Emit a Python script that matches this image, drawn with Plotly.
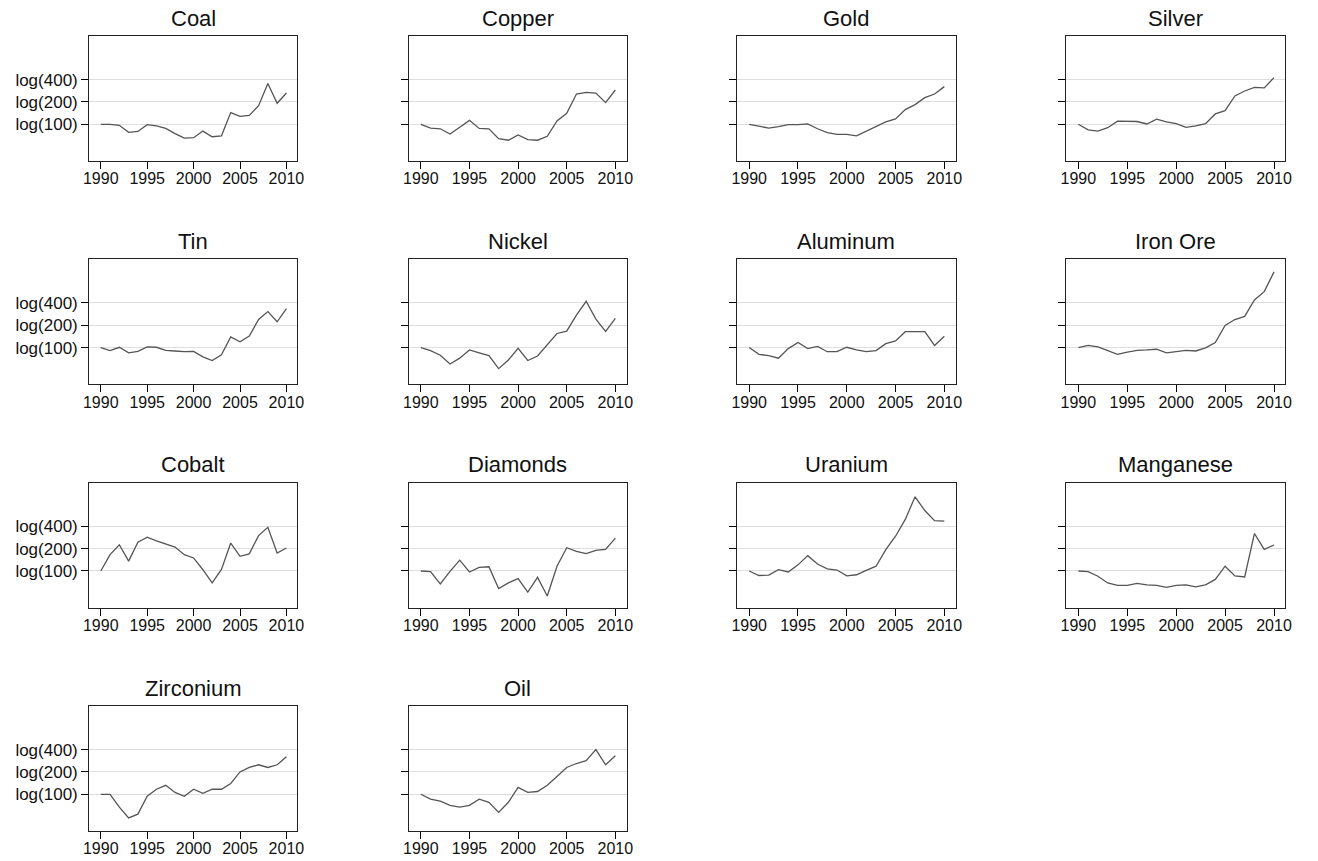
import plotly.graph_objects as go
import math

years = list(range(1990, 2011))

names = ["Coal", "Copper", "Gold", "Silver", "Tin", "Nickel", "Aluminum", "Iron Ore",
         "Cobalt", "Diamonds", "Uranium", "Manganese", "Zirconium", "Oil"]

coal = [100, 100, 97, 78, 80, 99, 95, 88, 75, 65, 66, 81, 68, 70, 144, 128, 132, 178, 354, 192, 264]
copper = [100, 89, 87, 74, 91, 113, 88, 87, 64, 61, 72, 62, 61, 69, 111, 141, 256, 270, 263, 196, 290]
gold = [100, 94, 89, 93, 99, 99, 101, 87, 77, 73, 73, 70, 81, 94, 108, 118, 158, 184, 229, 256, 322]
silver = [100, 84, 81, 90, 110, 109, 109, 101, 117, 108, 102, 91, 95, 102, 138, 153, 241, 281, 315, 310, 426]
tin = [100, 91, 101, 85, 89, 102, 101, 92, 90, 88, 89, 75, 67, 80, 139, 120, 143, 239, 306, 223, 336]
nickel = [100, 91, 79, 60, 72, 93, 85, 78, 52, 68, 98, 67, 77, 108, 155, 167, 274, 421, 242, 165, 247]
aluminum = [100, 81, 78, 72, 97, 117, 97, 104, 88, 88, 101, 93, 88, 91, 113, 123, 164, 165, 164, 107, 142]
iron_ore = [100, 107, 102, 90, 81, 87, 92, 93, 95, 85, 88, 92, 90, 99, 117, 199, 239, 263, 438, 568, 1050]
cobalt = [100, 166, 226, 136, 245, 286, 255, 231, 210, 166, 150, 104, 69, 105, 238, 158, 170, 300, 388, 175, 204]
diamonds = [100, 98, 67, 99, 140, 97, 112, 114, 58, 69, 79, 52, 82, 46, 116, 206, 184, 172, 190, 196, 277]
uranium = [100, 87, 88, 104, 97, 121, 161, 124, 107, 103, 86, 89, 102, 116, 194, 294, 496, 1000, 653, 476, 470]
manganese = [100, 98, 85, 69, 64, 64, 68, 65, 64, 60, 64, 65, 61, 65, 77, 116, 86, 83, 320, 196, 224]
zirconium = [100, 100, 67, 48, 54, 94, 117, 132, 106, 94, 117, 103, 117, 117, 140, 200, 230, 250, 230, 250, 320]
oil = [100, 86, 81, 71, 67, 71, 86, 78, 57, 78, 124, 106, 109, 132, 174, 230, 260, 285, 400, 250, 330]

series = [coal, copper, gold, silver, tin, nickel, aluminum, iron_ore,
          cobalt, diamonds, uranium, manganese, zirconium, oil]

y_tickvals = [100, 200, 400]
y_ticktext = ["log(100)", "log(200)", "log(400)"]
x_tickvals = [1990, 1995, 2000, 2005, 2010]

W, H = 1318, 861
col_px = [(84, 294), (406.7, 626.7), (738.3, 959), (1070.7, 1292)]
row_px = [(36, 161), (259.3, 384.3), (482.7, 607.7), (706, 831)]

FONT = "Liberation Sans, Arial, Helvetica, sans-serif"

fig = go.Figure()
annotations = []
layout_axes = {}
for i, (name, vals) in enumerate(zip(names, series)):
    r, c = divmod(i, 4)
    k = i + 1
    xa = "x" if k == 1 else f"x{k}"
    ya = "y" if k == 1 else f"y{k}"
    fig.add_trace(go.Scatter(x=years, y=vals, mode="lines", xaxis=xa, yaxis=ya,
                             line=dict(color="#555555", width=1.3), showlegend=False,
                             hoverinfo="skip"))
    x0, x1 = col_px[c]
    y0, y1 = row_px[r]
    xdom = [x0 / W, x1 / W]
    ydom = [1 - y1 / H, 1 - y0 / H]
    layout_axes[f"xaxis{'' if k == 1 else k}"] = dict(
        domain=xdom, anchor=ya, range=[1988.75, 2011.15], tickvals=x_tickvals,
        ticks="outside", ticklen=7, tickcolor="#000", tickwidth=1,
        ticklabelstandoff=-4,
        showline=True, mirror=True, linecolor="#222", linewidth=1,
        showgrid=False, zeroline=False,
        tickfont=dict(family=FONT, size=16, color="#111"))
    layout_axes[f"yaxis{'' if k == 1 else k}"] = dict(
        domain=ydom, anchor=xa, type="log", range=[math.log10(32), math.log10(1550)],
        tickvals=y_tickvals, ticktext=y_ticktext, showticklabels=(c == 0),
        ticks="outside", ticklen=7, tickcolor="#000", tickwidth=1,
        showline=True, mirror=True, linecolor="#222", linewidth=1,
        showgrid=True, gridcolor="#dedede", gridwidth=1, zeroline=False,
        tickfont=dict(family=FONT, size=17, color="#111"))
    annotations.append(dict(text=name, x=(x0 + x1) / 2 / W, y=1 - (y0 - 18) / H,
                            xref="paper", yref="paper", showarrow=False,
                            xanchor="center", yanchor="middle",
                            font=dict(family=FONT, size=22, color="#111")))

fig.update_layout(width=W, height=H, margin=dict(l=0, r=0, t=0, b=0),
                  paper_bgcolor="white", plot_bgcolor="white",
                  annotations=annotations, **layout_axes)
fig.write_html("out.html", config={"displayModeBar": False},
               post_script="document.body.style.margin='0';document.body.style.overflow='hidden';")
